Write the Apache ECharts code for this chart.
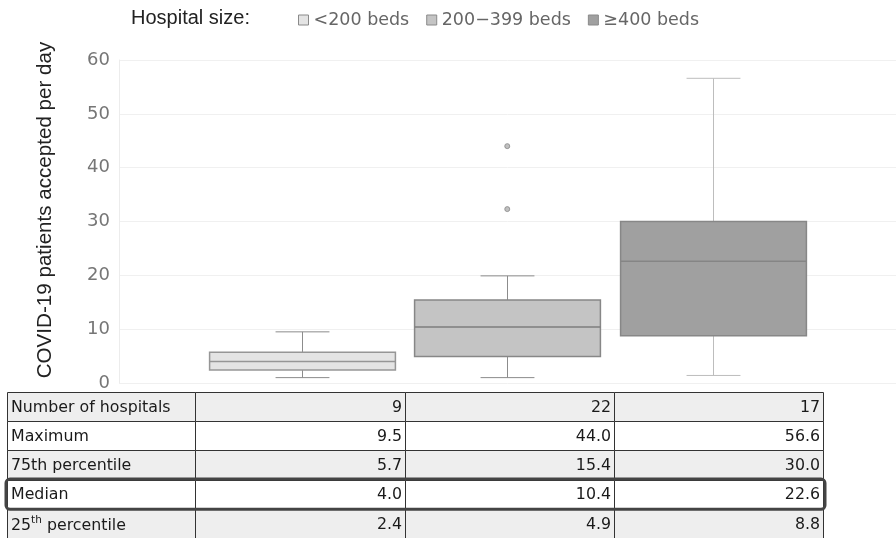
<!DOCTYPE html>
<html>
<head>
<meta charset="utf-8">
<script src="https://cdn.jsdelivr.net/npm/echarts@6/dist/echarts.min.js"></script>
<style>
  html, body { margin: 0; padding: 0; background: #ffffff; }
  #chart { width: 896px; height: 538px; }
</style>
</head>
<body>
<div id="chart"></div>
<script>
// Hospital size groups
const categories = ['<200 beds', '200\u2212399 beds', '\u2265400 beds'];

// Summary statistics per group (also shown in the table)
const hospitalCount = [9, 22, 17];
const maximum = [9.5, 44.0, 56.6];
const p75 = [5.7, 15.4, 30.0];
const median = [4.0, 10.4, 22.6];
const p25 = [2.4, 4.9, 8.8];

// Whisker ends
const whiskerHigh = [9.5, 19.9, 56.6];
const whiskerLow = [1.0, 1.0, 1.4];

// Outlying hospitals: [group index, value]
const outliers = [[1, 44.0], [1, 32.3]];

// Value axis range
const yMin = 0, yMax = 60, yStep = 10;

// Table rows
const rowLabels = ['Number of hospitals', 'Maximum', '75th percentile', 'Median', '{n|25}{sup|th}{n| percentile}'];
const rowValues = [hospitalCount, maximum, p75, median, p25];
const rowDecimals = [0, 1, 1, 1, 1];

const boxStyles = [
  { fill: '#e4e4e4', border: '#969696', median: '#969696', whisker: '#8c8c8c' },
  { fill: '#c4c4c4', border: '#878787', median: '#7e7e7e', whisker: '#8c8c8c' },
  { fill: '#a0a0a0', border: '#878787', median: '#858585', whisker: '#bdbdbd' }
];

function makeRenderer(st) {
  return function (params, api) {
    const x = api.value(0);
    const lo = api.coord([x, api.value(1)]);
    const q1 = api.coord([x, api.value(2)]);
    const md = api.coord([x, api.value(3)]);
    const q3 = api.coord([x, api.value(4)]);
    const hi = api.coord([x, api.value(5)]);
    const band = api.size([1, 0])[0];
    const bw = band * 0.905;
    const cw = bw * 0.29;
    const cx = Math.round(q1[0]) + 0.5;
    const lineW = { stroke: st.whisker, lineWidth: 1 };
    return {
      type: 'group',
      children: [
        { type: 'line', shape: { x1: cx, y1: hi[1], x2: cx, y2: q3[1] }, style: lineW },
        { type: 'line', shape: { x1: cx, y1: q1[1], x2: cx, y2: lo[1] }, style: lineW },
        { type: 'line', shape: { x1: cx - cw / 2, y1: hi[1], x2: cx + cw / 2, y2: hi[1] }, style: lineW },
        { type: 'line', shape: { x1: cx - cw / 2, y1: lo[1], x2: cx + cw / 2, y2: lo[1] }, style: lineW },
        { type: 'rect', shape: { x: cx - bw / 2, y: q3[1], width: bw, height: q1[1] - q3[1] },
          style: { fill: st.fill, stroke: st.border, lineWidth: 1.5 } },
        { type: 'line', shape: { x1: cx - bw / 2, y1: md[1], x2: cx + bw / 2, y2: md[1] },
          style: { stroke: st.median, lineWidth: 1.5 } }
      ]
    };
  };
}

const boxSeries = categories.map(function (name, i) {
  return {
    name: name,
    type: 'custom',
    xAxisIndex: 1,
    yAxisIndex: 1,
    renderItem: makeRenderer(boxStyles[i]),
    itemStyle: { color: boxStyles[i].fill, borderColor: boxStyles[i].border },
    encode: { x: 0, y: [1, 2, 3, 4, 5] },
    data: [[i, whiskerLow[i], p25[i], median[i], p75[i], whiskerHigh[i]]],
    z: 3
  };
});

// Table drawn as graphic elements
const colEdges = [7, 195, 405, 614, 823];
const tableTop = 392;
const rowH = 29.2;
const rowFills = ['#eeeeee', '#ffffff', '#eeeeee', '#ffffff', '#eeeeee'];
const tableFont = '"DejaVu Sans", Verdana, sans-serif';
const tableSize = 15.8;
const tableEls = [];
rowLabels.forEach(function (label, r) {
  const y = tableTop + r * rowH;
  for (let c = 0; c < colEdges.length - 1; c++) {
    tableEls.push({
      type: 'rect',
      shape: { x: colEdges[c] + 0.5, y: Math.round(y) + 0.5, width: colEdges[c + 1] - colEdges[c], height: rowH },
      style: { fill: rowFills[r], stroke: '#333333', lineWidth: 1 },
      z: 10
    });
  }
  tableEls.push({
    type: 'text',
    x: colEdges[0] + 4, y: y + rowH / 2 + 1,
    style: {
      text: label, fill: '#1a1a1a', font: tableSize + 'px ' + tableFont,
      align: 'left', verticalAlign: 'middle',
      rich: {
        n: { fontSize: tableSize, fontFamily: tableFont, fill: '#1a1a1a', lineHeight: 19, verticalAlign: 'bottom' },
        sup: { fontSize: 10.5, fontFamily: tableFont, fill: '#1a1a1a', lineHeight: 19, verticalAlign: 'top' }
      }
    },
    z: 12
  });
  rowValues[r].forEach(function (v, c) {
    tableEls.push({
      type: 'text',
      x: colEdges[c + 2] - 3, y: y + rowH / 2 + 1,
      style: { text: v.toFixed(rowDecimals[r]), fill: '#1a1a1a', font: tableSize + 'px ' + tableFont,
               align: 'right', verticalAlign: 'middle' },
      z: 12
    });
  });
});
// Outline around the median row
tableEls.push({
  type: 'rect',
  shape: { x: 6, y: tableTop + 3 * rowH - 0.5, width: 819, height: rowH + 1, r: 4 },
  style: { fill: null, stroke: '#444444', lineWidth: 3 },
  z: 14
});

const chart = echarts.init(document.getElementById('chart'), null, { renderer: 'canvas' });
chart.setOption({
  animation: false,
  backgroundColor: '#ffffff',
  grid: [
    { left: 119, right: 0, top: 60, bottom: 155 },
    { left: 199.25, right: 80.75, top: 60, bottom: 155 }
  ],
  xAxis: [
    { type: 'value', gridIndex: 0, show: false, min: 0, max: 1 },
    { type: 'category', gridIndex: 1, data: categories, show: false, boundaryGap: true }
  ],
  yAxis: [
    {
      type: 'value', gridIndex: 0, min: yMin, max: yMax, interval: yStep,
      axisLine: { show: true, lineStyle: { color: '#ececec' } },
      axisTick: { show: false },
      splitLine: { show: true, lineStyle: { color: '#f0f0f0' } },
      axisLabel: { color: '#767676', fontSize: 18, fontFamily: '"DejaVu Sans", Verdana, sans-serif', margin: 9 }
    },
    { type: 'value', gridIndex: 1, min: yMin, max: yMax, interval: yStep, show: false, splitLine: { show: false } }
  ],
  legend: {
    left: 293, top: 6,
    itemWidth: 10, itemHeight: 10, itemGap: 17,
    icon: 'rect',
    textStyle: { color: '#666666', fontSize: 17.5, fontFamily: '"DejaVu Sans", Verdana, sans-serif' },
    data: categories.map(function (name, i) {
      return { name: name, itemStyle: { color: boxStyles[i].fill, borderColor: '#8a8a8a', borderWidth: 1 } };
    })
  },
  graphic: [
    {
      type: 'text', left: 131, top: 8,
      style: { text: 'Hospital size:', fill: '#222222', font: '20px "Liberation Sans", Arial, sans-serif' }
    },
    {
      type: 'text', x: 45, y: 210, rotation: Math.PI / 2,
      style: { text: 'COVID-19 patients accepted per day', fill: '#222222',
               font: '20.6px "Liberation Sans", Arial, sans-serif', align: 'center', verticalAlign: 'middle' }
    },
    { type: 'group', children: tableEls }
  ],
  series: boxSeries.concat([{
    name: 'outliers',
    type: 'scatter',
    xAxisIndex: 1, yAxisIndex: 1,
    symbol: 'circle', symbolSize: 5,
    itemStyle: { color: '#b0b0b0', borderColor: '#888888', borderWidth: 1 },
    data: outliers,
    z: 4
  }])
});
</script>
</body>
</html>
